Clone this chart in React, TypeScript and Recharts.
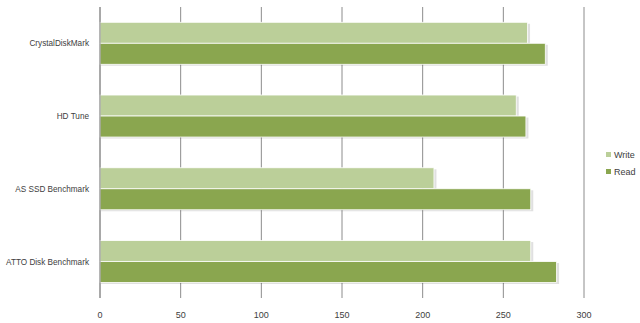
import { Bar, BarChart, CartesianGrid, Legend, XAxis, YAxis } from "recharts";

const categories = ["CrystalDiskMark", "HD Tune", "AS SSD Benchmark", "ATTO Disk Benchmark"];
const writeValues = [265, 258, 207, 267];
const readValues = [276, 264, 267, 283];
const xTicks = [0, 50, 100, 150, 200, 250, 300];

const WRITE_COLOR = "#bbcf99";
const READ_COLOR = "#8aa64f";

const data = categories.map((name, i) => ({
  name,
  write: writeValues[i],
  read: readValues[i],
}));

const FONT = "'Liberation Sans', Arial, sans-serif";

// bar with a soft grey drop shadow and a thin white edge
function ShadowBar(props: any) {
  const { x, y, width, height, fill } = props;
  if (!width || width <= 0) return null;
  return (
    <g>
      <rect x={x + 1} y={y + 1.5} width={width + 1.5} height={height} fill="#000" opacity={0.12} />
      <rect x={x} y={y} width={width} height={height} fill={fill} stroke="#fff" strokeWidth={0.8} />
    </g>
  );
}

// category label on one line, right aligned
function CategoryTick(props: any) {
  const { x, y, payload } = props;
  return (
    <text x={x - 3} y={y} dy={3} textAnchor="end" fontSize={8.2} fill="#404040" fontFamily={FONT}>
      {payload.value}
    </text>
  );
}

function LegendBox() {
  const items = [
    { label: "Write", color: WRITE_COLOR },
    { label: "Read", color: READ_COLOR },
  ];
  return (
    <div style={{ fontFamily: FONT, fontSize: 9, color: "#404040" }}>
      {items.map((it) => (
        <div key={it.label} style={{ display: "flex", alignItems: "center", height: 17 }}>
          <span style={{ width: 5, height: 5, background: it.color, marginRight: 3 }} />
          {it.label}
        </div>
      ))}
    </div>
  );
}

export default function App() {
  return (
    <div style={{ position: "absolute", left: 0, top: 0, width: 640, height: 323, background: "#fff" }}>
      <BarChart
        width={640}
        height={323}
        data={data}
        layout="vertical"
        margin={{ top: 7, right: 56, bottom: 0, left: 0 }}
        barCategoryGap="21%"
        barGap={0}
      >
        <CartesianGrid horizontal={false} stroke="#8c8c8c" strokeWidth={1} />
        <XAxis
          type="number"
          domain={[0, 300]}
          ticks={xTicks}
          axisLine={false}
          tickLine={false}
          height={25}
          tick={{ fontSize: 9, fill: "#404040", fontFamily: FONT }}
          tickMargin={8}
        />
        <YAxis
          type="category"
          dataKey="name"
          width={100}
          axisLine={{ stroke: "#8c8c8c" }}
          tickLine={false}
          tick={<CategoryTick />}
        />
        <Legend
          layout="horizontal"
          align="center"
          verticalAlign="middle"
          content={<LegendBox />}
          wrapperStyle={{ left: 606, top: 146, width: 40, height: 40 }}
        />
        <Bar dataKey="write" fill={WRITE_COLOR} shape={<ShadowBar />} isAnimationActive={false} />
        <Bar dataKey="read" fill={READ_COLOR} shape={<ShadowBar />} isAnimationActive={false} />
      </BarChart>
    </div>
  );
}
